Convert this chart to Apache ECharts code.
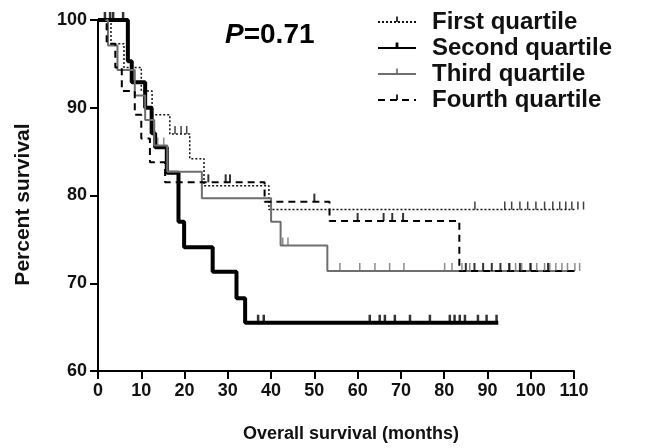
<!DOCTYPE html>
<html>
<head>
<meta charset="utf-8">
<script src="https://cdn.jsdelivr.net/npm/echarts@6/dist/echarts.min.js"></script>
<style>
  html, body { margin: 0; padding: 0; background: #fff; }
  #chart { width: 660px; height: 448px; }
</style>
</head>
<body>
<div id="chart"></div>
<script>
// Kaplan-Meier steps: time (months) and percent survival after each drop
var firstT  = [0, 3, 6, 10, 12.5, 16.6, 21.2, 24.5, 39.5, 112.5];
var firstS  = [100, 97.3, 94.6, 91.9, 89.2, 87.0, 84.2, 81.1, 78.4, 78.4];
var secondT = [0, 6.9, 7.8, 10.9, 12.4, 13.2, 15.9, 18.6, 19.9, 26.5, 32.0, 34.0, 92.5];
var secondS = [100, 95.3, 92.9, 90.0, 87.1, 85.5, 82.6, 77.0, 74.1, 71.3, 68.3, 65.5, 65.5];
var thirdT  = [0, 2.3, 4.5, 8.5, 10.9, 13, 16, 24, 40.0, 42.2, 53.0, 112];
var thirdS  = [100, 97.1, 94.3, 91.4, 88.6, 85.7, 82.7, 79.7, 77.0, 74.3, 71.4, 71.4];
var fourthT = [0, 2, 4, 5.5, 8.5, 10, 12, 15.5, 38.5, 53.5, 83.5, 112];
var fourthS = [100, 97.3, 94.6, 91.9, 89.2, 86.5, 83.8, 81.5, 79.3, 77.1, 71.4, 71.4];

// censored observations (months)
var firstCens  = [17.8, 19.2, 20.5, 87.1, 94.0, 95.6, 97.5, 99.3, 101.2, 103.2, 105.1, 106.7, 108.1, 109.5, 110.9, 112.2];
var secondCens = [1.6, 2.8, 3.5, 5.8, 37.0, 38.3, 62.8, 65.1, 66.3, 68.6, 72.1, 76.7, 81.3, 82.4, 83.6, 84.8,
                  87.8, 89.8, 92.1];
var thirdCens  = [13.8, 15.2, 42.7, 43.9, 55.9, 60.5, 64.0, 67.4, 70.7, 80.1, 81.8, 84.1, 85.9,
                  95.2, 96.5, 97.9, 99.8, 101.4, 103.2, 104.4, 105.8, 107.2, 108.5, 110.2, 111.3];
var fourthCens = [25.5, 29.5, 30.5, 50.0, 60, 66, 68, 70.5, 85, 87, 89, 91, 93, 95, 97.5, 100, 104];

var names = ['First quartile', 'Second quartile', 'Third quartile', 'Fourth quartile'];
var xTicks = [0, 110, 10];
var yTicks = [60, 100, 10];

function pairs(t, s) {
  return t.map(function (v, i) { return [v, s[i]]; });
}
function survAt(t, s, x) {
  var v = s[0];
  for (var i = 0; i < t.length; i++) { if (t[i] <= x) v = s[i]; }
  return v;
}
function cens(t, s, c) {
  return c.map(function (x) { return [x, survAt(t, s, x)]; });
}

// legend icon: short tick rising from the line
function tickPath(w) {
  var a = 5 - w / 2, b = 5 + w / 2;
  return 'path://M' + a + ',0 H' + b + ' V5 H' + a + ' Z M0,10 H10 V10.01 H0 Z';
}

var font = 'Liberation Sans, Arial, sans-serif';

function stepSeries(name, t, s, color, width, type, tw) {
  return {
    name: name, type: 'line', step: 'end', data: pairs(t, s),
    showSymbol: false, symbol: tickPath(tw), clip: false, silent: true,
    lineStyle: { color: color, width: width, type: type },
    itemStyle: { color: color },
    z: 3
  };
}
function tickSeries(name, t, s, c, color, w) {
  return {
    name: name, type: 'scatter', data: cens(t, s, c),
    symbol: 'rect', symbolSize: [w, 8], symbolOffset: [0, -4],
    itemStyle: { color: color }, clip: false, silent: true, z: 4
  };
}

var option = {
  animation: false,
  backgroundColor: '#fff',
  grid: { left: 98, right: 86, top: 20, bottom: 75 },
  legend: {
    data: names, orient: 'vertical', left: 372, top: 5,
    itemWidth: 38, itemHeight: 14, itemGap: 2, selectedMode: false,
    textStyle: { fontFamily: font, fontWeight: 'bold', fontSize: 24, color: '#111', lineHeight: 22, padding: [0, 0, 0, 11] }
  },
  graphic: [{
    type: 'text', left: 225, top: 21,
    style: {
      text: '{p|P}{r|=0.71}',
      rich: {
        p: { fontFamily: font, fontWeight: 'bold', fontStyle: 'italic', fontSize: 28, fill: '#000' },
        r: { fontFamily: font, fontWeight: 'bold', fontSize: 28, fill: '#000' }
      }
    }
  }],
  xAxis: {
    type: 'value', min: xTicks[0], max: xTicks[1], interval: xTicks[2],
    name: 'Overall survival (months)', nameLocation: 'middle', nameGap: 54,
    nameTextStyle: { fontFamily: font, fontWeight: 'bold', fontSize: 18, color: '#111', padding: [0, 0, 0, 30] },
    splitLine: { show: false },
    axisLine: { lineStyle: { color: '#000', width: 2 } },
    axisTick: { length: 8, lineStyle: { color: '#000', width: 2 } },
    axisLabel: { fontFamily: font, fontWeight: 'bold', fontSize: 18, color: '#111', margin: 11 }
  },
  yAxis: {
    type: 'value', min: yTicks[0], max: yTicks[1], interval: yTicks[2],
    name: 'Percent survival', nameLocation: 'middle', nameGap: 64,
    nameTextStyle: { fontFamily: font, fontWeight: 'bold', fontSize: 21, color: '#111', padding: [0, 18, 0, 0] },
    splitLine: { show: false },
    axisLine: { show: true, lineStyle: { color: '#000', width: 2 } },
    axisTick: { show: true, length: 8, lineStyle: { color: '#000', width: 2 } },
    axisLabel: { fontFamily: font, fontWeight: 'bold', fontSize: 18, color: '#111', margin: 11 }
  },
  series: [
    stepSeries(names[0], firstT, firstS, '#111', 1.5, [2, 2], 1.5),
    stepSeries(names[1], secondT, secondS, '#000', 4, 'solid', 2.5),
    stepSeries(names[2], thirdT, thirdS, '#6e6e6e', 2, 'solid', 1.5),
    stepSeries(names[3], fourthT, fourthS, '#000', 2, [7, 5], 1.5),
    tickSeries('c1', firstT, firstS, firstCens, '#111', 1.5),
    tickSeries('c2', secondT, secondS, secondCens, '#000', 2.5),
    tickSeries('c3', thirdT, thirdS, thirdCens, '#6e6e6e', 1.5),
    tickSeries('c4', fourthT, fourthS, fourthCens, '#000', 2)
  ]
};

var chart = echarts.init(document.getElementById('chart'));
chart.setOption(option);
</script>
</body>
</html>
